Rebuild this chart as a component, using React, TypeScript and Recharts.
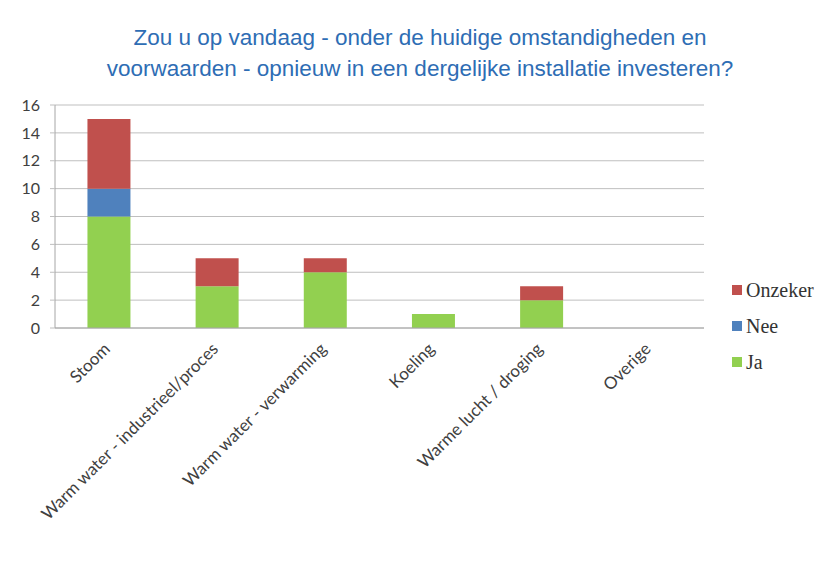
import { BarChart, Bar, XAxis, YAxis, CartesianGrid } from 'recharts';

const categories = [
  'Stoom',
  'Warm water - industrieel/proces',
  'Warm water - verwarming',
  'Koeling',
  'Warme lucht / droging',
  'Overige',
];
const ja = [8, 3, 4, 1, 2, 0];
const nee = [2, 0, 0, 0, 0, 0];
const onzeker = [5, 2, 1, 0, 1, 0];
const yTicks = [0, 2, 4, 6, 8, 10, 12, 14, 16];
const separatorTicks = [0, 1, 2, 3, 4, 5, 6];

const series = [
  { key: 'Ja', color: '#92D050' },
  { key: 'Nee', color: '#4F81BD' },
  { key: 'Onzeker', color: '#C0504D' },
];

const data = categories.map((name, i) => ({
  name,
  Ja: ja[i],
  Nee: nee[i],
  Onzeker: onzeker[i],
}));

function AngledTick({ x, y, payload }: any) {
  const ax = x + 2;
  const ay = y + 14;
  return (
    <text
      x={ax}
      y={ay}
      transform={`rotate(-45, ${ax}, ${ay})`}
      textAnchor="end"
      fontSize={17}
      fontFamily="Lato, 'Open Sans', sans-serif"
      fill="#404040"
    >
      {payload.value}
    </text>
  );
}

function LegendBox() {
  const items = [...series].reverse();
  return (
    <div
      style={{
        position: 'absolute',
        top: 272,
        left: 732,
        fontFamily: "'Liberation Serif', 'DejaVu Serif', serif",
        fontSize: 20,
        color: '#333',
      }}
    >
      {items.map((s) => (
        <div key={s.key} style={{ display: 'flex', alignItems: 'center', height: 36 }}>
          <span style={{ width: 10, height: 10, background: s.color, marginRight: 4, display: 'inline-block' }} />
          {s.key}
        </div>
      ))}
    </div>
  );
}

export default function App() {
  return (
    <div style={{ position: 'fixed', top: 0, left: 0, width: 828, height: 561, background: '#fff' }}>
      <div
        style={{
          position: 'absolute',
          top: 22,
          left: 0,
          width: 840,
          textAlign: 'center',
          fontFamily: "'Liberation Sans', Arial, sans-serif",
          fontSize: 22.5,
          lineHeight: '31px',
          color: '#2E6DB4',
        }}
      >
        Zou u op vandaag - onder de huidige omstandigheden en
        <br />
        voorwaarden - opnieuw in een dergelijke installatie investeren?
      </div>
      <BarChart
        width={828}
        height={561}
        data={data}
        margin={{ top: 105, right: 124, bottom: 0, left: 0 }}
        barCategoryGap="30%"
      >
        <CartesianGrid vertical={false} stroke="#BFBFBF" />
        <XAxis
          xAxisId="sep"
          type="number"
          domain={[0, 6]}
          ticks={separatorTicks}
          tick={false}
          tickLine={{ stroke: '#A6A6A6' }}
          tickSize={5}
          axisLine={false}
          height={0}
        />
        <XAxis
          dataKey="name"
          interval={0}
          tick={<AngledTick />}
          tickLine={false}
          axisLine={{ stroke: '#A6A6A6' }}
          height={233}
        />
        <YAxis
          width={55}
          domain={[0, 16]}
          ticks={yTicks}
          tickLine={{ stroke: '#BFBFBF' }}
          tickSize={5}
          tickMargin={10}
          axisLine={{ stroke: '#A6A6A6' }}
          tick={{ fontSize: 16, fill: '#404040', fontFamily: "Lato, 'Open Sans', sans-serif" }}
        />
        {series.map((s) => (
          <Bar key={s.key} dataKey={s.key} stackId="a" fill={s.color} isAnimationActive={false} />
        ))}
      </BarChart>
      <LegendBox />
    </div>
  );
}
